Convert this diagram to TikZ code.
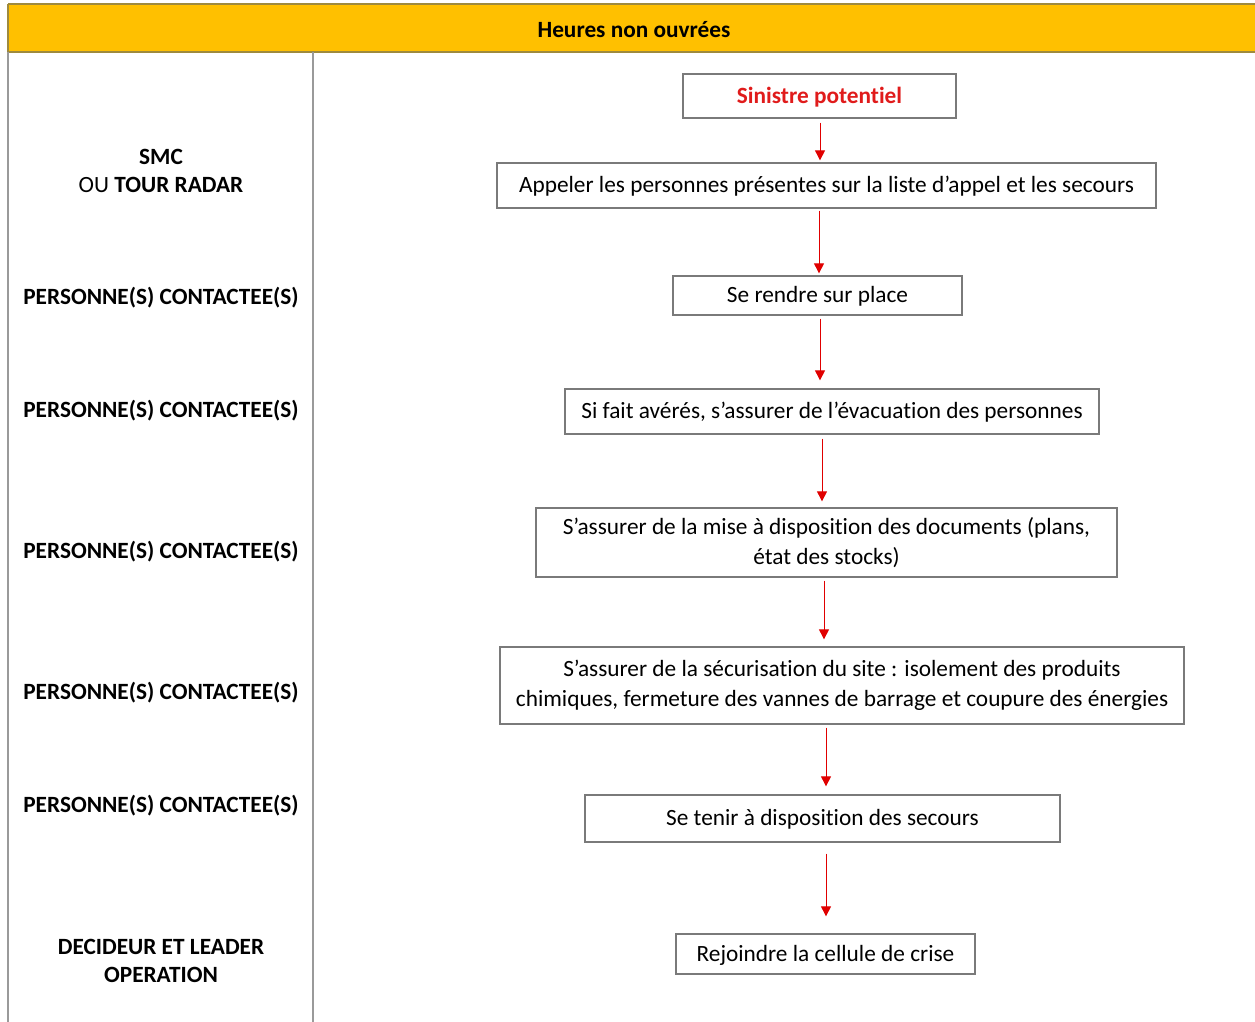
\documentclass[tikz,border=0pt]{standalone}
\usepackage{fontspec}
\setmainfont[Ligatures={NoCommon,NoRare,NoDiscretionary},Contextuals={NoAlternate}]{Carlito}
\usetikzlibrary{arrows.meta}
\definecolor{hdr}{HTML}{FFC000}
\definecolor{hdrline}{HTML}{9E8A3E}
\definecolor{tline}{HTML}{9A9A9A}
\definecolor{bline}{HTML}{7A7A7A}
\definecolor{redt}{HTML}{E01B1B}
\definecolor{reda}{HTML}{E00000}
\tikzset{
  stepbox/.style={draw=bline, line width=1.3pt, inner sep=0pt, align=center, font=\fontsize{23.3}{30}\selectfont},
  oneline/.style={text height=18pt},
  lbl/.style={align=center, font=\fontsize{23.3}{28}\selectfont\bfseries},
  arr/.style={draw=reda, line width=1pt, -{Triangle[width=10pt,length=10pt]}},
}
\begin{document}
\begin{tikzpicture}[x=1pt,y=-1pt]
\useasboundingbox (0,0) rectangle (1255,1022);
% header band
\fill[hdr] (8,4) rectangle (1260,52);
\draw[hdrline, line width=1.2pt] (8,4) -- (1260,4);
\draw[hdrline, line width=1.6pt] (8,52) -- (1260,52);
\draw[hdrline, line width=1.2pt] (8,4) -- (8,52);
\node[font=\fontsize{23.3}{25}\selectfont\bfseries] (hd) at (634,29.5) {Heures non ouvrées};
% table lines
\draw[tline, line width=1.4pt] (8,52) -- (8,1025);
\draw[tline, line width=1.4pt] (313,52) -- (313,1025);
% left labels
\node[lbl] (l1) at (161,170.5) {SMC\\{\mdseries OU} TOUR RADAR};
\node[lbl] (l2) at (161,297.5) {PERSONNE(S) CONTACTEE(S)};
\node[lbl] (l3) at (161,410.5) {PERSONNE(S) CONTACTEE(S)};
\node[lbl] (l4) at (161,551.5) {PERSONNE(S) CONTACTEE(S)};
\node[lbl] (l5) at (161,692.5) {PERSONNE(S) CONTACTEE(S)};
\node[lbl] (l6) at (161,805.5) {PERSONNE(S) CONTACTEE(S)};
\node[lbl] (l7) at (161,960.5) {DECIDEUR ET LEADER\\OPERATION};
% boxes
\node[stepbox, oneline, minimum width=273pt, minimum height=44pt, text=redt, font=\fontsize{23.3}{30}\selectfont\bfseries] (b1) at (819.5,96) {Sinistre potentiel};
\node[stepbox, oneline, minimum width=659pt, minimum height=45pt] (b2) at (826.5,185.5) {Appeler les personnes présentes sur la liste d’appel et les secours};
\node[stepbox, oneline, minimum width=289pt, minimum height=39pt] (b3) at (817.5,295.5) {Se rendre sur place};
\node[stepbox, oneline, minimum width=534pt, minimum height=45pt] (b4) at (832,411.5) {Si fait avérés, s’assurer de l’évacuation des personnes};
\node[stepbox, minimum width=581pt, minimum height=69pt] (b5) at (826.5,542.5) {S’assurer de la mise à disposition des documents (plans,\\état des stocks)};
\node[stepbox, minimum width=684pt, minimum height=77pt] (b6) at (842,685.5) {S’assurer de la sécurisation du site : isolement des produits\\chimiques, fermeture des vannes de barrage et coupure des énergies};
\node[stepbox, oneline, minimum width=475pt, minimum height=47pt] (b7) at (822.5,818.5) {Se tenir à disposition des secours};
\node[stepbox, oneline, minimum width=299pt, minimum height=40pt] (b8) at (825.5,954) {Rejoindre la cellule de crise};
% arrow x positions
\coordinate (x1) at (820,0);
\coordinate (x2) at (819,0);
\coordinate (x3) at (820,0);
\coordinate (x4) at (822,0);
\coordinate (x5) at (824,0);
\coordinate (x6) at (826,0);
\coordinate (x7) at (826,0);
\draw[arr, shorten <=4pt, shorten >=2pt] (b1.south -| x1) -- (b2.north -| x1);
\draw[arr, shorten <=2pt, shorten >=2pt] (b2.south -| x2) -- (b3.north -| x2);
\draw[arr, shorten <=3pt, shorten >=8pt] (b3.south -| x3) -- (b4.north -| x3);
\draw[arr, shorten <=4pt, shorten >=6pt] (b4.south -| x4) -- (b5.north -| x4);
\draw[arr, shorten <=3pt, shorten >=7pt] (b5.south -| x5) -- (b6.north -| x5);
\draw[arr, shorten <=3pt, shorten >=8pt] (b6.south -| x6) -- (b7.north -| x6);
\draw[arr, shorten <=11pt, shorten >=17pt] (b7.south -| x7) -- (b8.north -| x7);
\end{tikzpicture}
\end{document}
